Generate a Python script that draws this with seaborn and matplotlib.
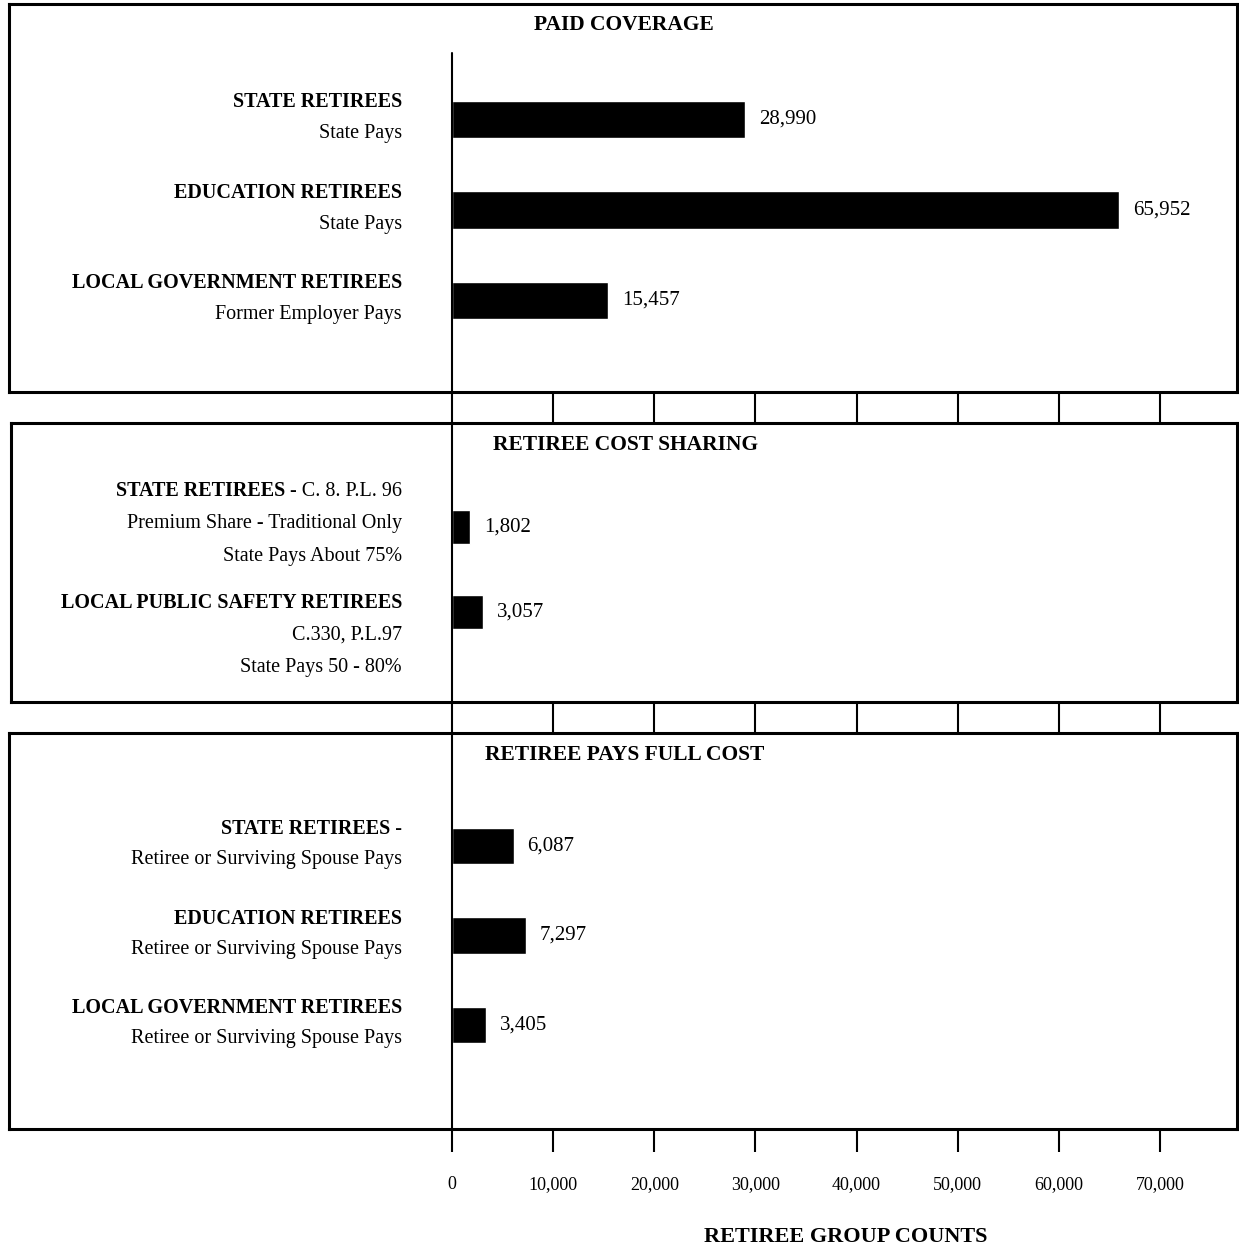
import matplotlib
matplotlib.use("Agg")
import matplotlib.pyplot as plt
import seaborn as sns
import pandas as pd

# ---- data ----
paid_groups = ["STATE RETIREES", "EDUCATION RETIREES", "LOCAL GOVERNMENT RETIREES"]
paid_notes = ["State Pays", "State Pays", "Former Employer Pays"]
paid_counts = [28990, 65952, 15457]

sharing_groups = ["STATE RETIREES", "LOCAL PUBLIC SAFETY RETIREES"]
sharing_refs = [" - C. 8. P.L. 96", ""]
sharing_notes = [["Premium Share - Traditional Only", "State Pays About 75%"],
                 ["C.330, P.L.97", "State Pays 50 - 80%"]]
sharing_counts = [1802, 3057]

full_groups = ["STATE RETIREES -", "EDUCATION RETIREES", "LOCAL GOVERNMENT RETIREES"]
full_notes = ["Retiree or Surviving Spouse Pays"] * 3
full_counts = [6087, 7297, 3405]

tick_values = [0, 10000, 20000, 30000, 40000, 50000, 60000, 70000]
tick_labels = ["0", "10,000", "20,000", "30,000", "40,000", "50,000", "60,000", "70,000"]

# ---- layout (pixels) ----
W, H = 1239, 1251
X0_PX = 452
PX_PER_UNIT = (1160 - 452) / 70000
LABEL_RIGHT_PX = 402

sns.set_style("white")
plt.rcParams["font.family"] = ["Liberation Serif", "DejaVu Serif"]
plt.rcParams["text.color"] = "black"
plt.rcParams["axes.labelcolor"] = "black"
plt.rcParams["xtick.color"] = "black"
plt.rcParams["xtick.labelcolor"] = "black"

fig = plt.figure(figsize=(W / 100, H / 100), dpi=100)


def make_axes(left, right, top, bottom):
    ax = fig.add_axes([left / W, 1 - bottom / H, (right - left) / W, (bottom - top) / H])
    ax.set_xlim((left - X0_PX) / PX_PER_UNIT, (right - X0_PX) / PX_PER_UNIT)
    ax._label_x = (LABEL_RIGHT_PX - left) / (right - left)
    return ax


def label_line(ax, y, bold, normal, size=14.5):
    tr = ax.get_yaxis_transform()
    if normal:
        t = ax.text(ax._label_x, y, normal, transform=tr, ha="right", va="center",
                    fontsize=size, color="black")
        if bold:
            ax.annotate(bold, xy=(0, 0.5), xycoords=t, ha="right", va="center",
                        fontsize=size, fontweight="bold", color="black")
    else:
        ax.text(ax._label_x, y, bold, transform=tr, ha="right", va="center",
                fontsize=size, fontweight="bold", color="black")


def draw_panel(ax, groups, counts, title, title_y, ylim, tick_len):
    df = pd.DataFrame({"group": groups, "count": counts})
    sns.barplot(data=df, x="count", y="group", orient="h", color="black",
                saturation=1, width=0.41, ax=ax)
    ax.bar_label(ax.containers[0], labels=[f"{v:,}" for v in counts],
                 padding=10, fontsize=15, color="black")
    ax.set_ylim(*ylim)
    ax.set_yticks([])
    ax.set_ylabel("")
    ax.set_xlabel("")
    ax.set_xticks(tick_values)
    ax.tick_params(axis="x", direction="out", length=tick_len, width=1.5,
                   color="black", bottom=True, labelbottom=False)
    for s in ax.spines.values():
        s.set_linewidth(2.2)
        s.set_color("black")
    ax.text(0.501, title_y, title, transform=ax.transAxes, ha="center",
            va="center", fontsize=15.5, fontweight="bold", color="black")


# Panel 1 - paid coverage
ax1 = make_axes(9, 1237, 4, 392)
xl = ax1.get_xlim()
draw_panel(ax1, paid_groups, paid_counts, "PAID COVERAGE", 0.946, (3.011, -1.276), 22.3)
ax1.set_xlim(xl)
ax1.axvline(0, ymin=0, ymax=0.874, color="black", lw=1.5)
for i, (g, n) in enumerate(zip(paid_groups, paid_notes)):
    label_line(ax1, i - 0.19, g, "")
    label_line(ax1, i + 0.155, "", n)

# Panel 2 - retiree cost sharing
ax2 = make_axes(11, 1237, 423, 702)
xl = ax2.get_xlim()
draw_panel(ax2, sharing_groups, sharing_counts, "RETIREE COST SHARING", 0.921,
           (2.059, -1.224), 22.3)
ax2.set_xlim(xl)
ax2.axvline(0, color="black", lw=1.5)
first_line = [-0.42, -0.106]
step = 0.382
for i, (g, r, notes) in enumerate(zip(sharing_groups, sharing_refs, sharing_notes)):
    y = i + first_line[i]
    label_line(ax2, y, g, r)
    for k, n in enumerate(notes):
        label_line(ax2, y + (k + 1) * step, "", n)

# Panel 3 - retiree pays full cost
ax3 = make_axes(9, 1237, 733, 1129)
xl = ax3.get_xlim()
draw_panel(ax3, full_groups, full_counts, "RETIREE PAYS FULL COST", 0.944,
           (3.162, -1.263), 16.6)
ax3.set_xlim(xl)
ax3.axvline(0, color="black", lw=1.5)
for i, (g, n) in enumerate(zip(full_groups, full_notes)):
    label_line(ax3, i - 0.19, g, "")
    label_line(ax3, i + 0.155, "", n)
ax3.set_xticks(tick_values, tick_labels)
ax3.tick_params(axis="x", labelbottom=True, labelsize=13, pad=17, labelcolor="black")
ax3.set_xlabel("RETIREE GROUP COUNTS", fontsize=16, fontweight="bold", color="black")
ax3.xaxis.set_label_coords(0.681, -0.273)
ax3.xaxis.label.set_va("center")

fig.savefig("out.png", dpi=100, facecolor="white")
